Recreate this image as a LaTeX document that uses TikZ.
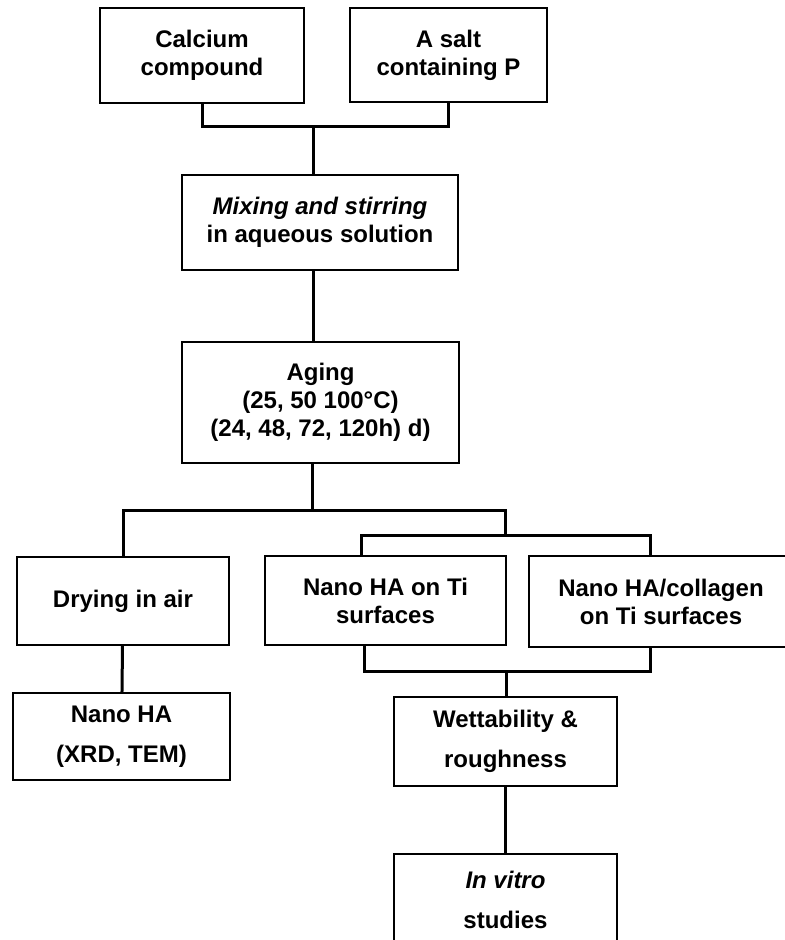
\documentclass[tikz,border=0pt]{standalone}
\usepackage{fontspec}
\setmainfont{Liberation Sans}
\tikzset{
  stage/.style={draw,line width=1.5pt,inner sep=0pt,align=center,
    font=\bfseries\fontsize{18}{21}\selectfont},
  widestage/.style={stage,font=\bfseries\fontsize{18}{30}\selectfont},
  link/.style={line width=2.25pt}
}
\begin{document}
\begin{tikzpicture}[x=0.75pt,y=-0.75pt]
        \useasboundingbox (0,0) rectangle (785,940);
        \clip (0,0) rectangle (785,940);
        % starting materials
        \node[stage,minimum width=153pt,minimum height=71.25pt] (calc) at (202,55.5) {Calcium\\compound};
        \node[stage,minimum width=147.75pt,minimum height=70.5pt] (salt) at (448.5,55) {A salt\\containing P};
        \node[stage,minimum width=207pt,minimum height=71.25pt] (mix) at (320,222.5) {\textit{Mixing and stirring}\\in aqueous solution};
        \node[stage,minimum width=207.75pt,minimum height=90.75pt] (aging) at (320.5,402.5) {Aging\\(25, 50 100°C)\\(24, 48, 72, 120h) d)};
        % branches
        \node[stage,minimum width=159pt,minimum height=66pt] (dry) at (123,601) {Drying in air};
        \node[stage,minimum width=180.75pt,minimum height=66.75pt] (ti) at (385.5,600.5) {Nano HA on Ti\\surfaces};
        \node[stage,minimum width=198pt,minimum height=68.25pt] (coll) at (661,601.5) {Nano HA/collagen\\on Ti surfaces};
        \node[widestage,minimum width=162.75pt,minimum height=65.25pt] (nano) at (121.5,736.5) {Nano HA\\(XRD, TEM)};
        \node[widestage,minimum width=167.25pt,minimum height=66.75pt] (wet) at (505.5,741.5) {Wettability \&\\roughness};
        \node[widestage,minimum width=167.25pt,minimum height=69pt] (vitro) at (505.5,900) {\textit{In vitro}\\studies};
        % connectors
        \coordinate (j1) at (313,126);
        \coordinate (j2) at (312,510);
        \coordinate (j3) at (505,535);
        \coordinate (j4) at (506,671);
        \draw[link] (calc.south) |- (j1) -| (salt.south);
        \draw[link] (j1) -- (j1 |- mix.north);
        \draw[link] (j1 |- mix.south) -- (j1 |- aging.north);
        \draw[link] (j2 |- aging.south) -- (j2);
        \draw[link] (dry.north) |- (j2) -| (j3);
        \draw[link] (361,0 |- ti.north) |- (j3) -| (650,0 |- coll.north);
        \draw[link] (dry) -- (nano);
        \draw[link] (364,0 |- ti.south) |- (j4) -| (650,0 |- coll.south);
        \draw[link] (j4) -- (j4 |- wet.north);
        \draw[link] (wet) -- (vitro);
\end{tikzpicture}
\end{document}
